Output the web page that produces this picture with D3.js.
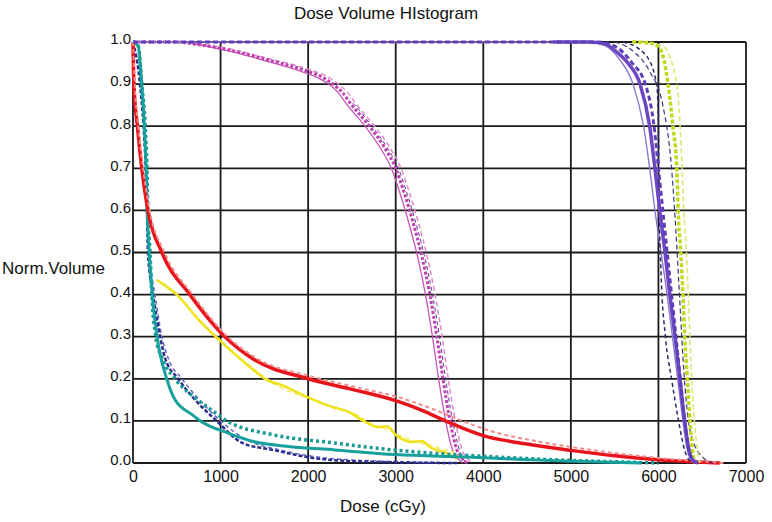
<!DOCTYPE html>
<html>
<head>
<meta charset="utf-8">
<script src="https://cdn.jsdelivr.net/npm/d3@7"></script>
<style>
  body { margin: 0; background: #fff; }
  text { font-family: "Liberation Sans", Arial, sans-serif; fill: #111; }
</style>
</head>
<body>
<div id="chart"></div>
<script>
var width = 772,
    height = 522,
    mLeft = 133, mRight = 746, mTop = 42, mBottom = 463;

var xTicks = [0, 1000, 2000, 3000, 4000, 5000, 6000, 7000];
var yTicks = [0, 0.1, 0.2, 0.3, 0.4, 0.5, 0.6, 0.7, 0.8, 0.9, 1.0];

// [dose cGy, normalized volume]
var redSolid = [[0,1],[10,0.9],[50,0.8],[100,0.7],[170,0.6],[330,0.5],[650,0.4],[1050,0.3],[1350,0.25],[2000,0.2],[2500,0.175],[3000,0.148],[3300,0.125],[3600,0.097],[4000,0.065],[4500,0.045],[5000,0.03],[5500,0.017],[6000,0.008],[6400,0.003],[6700,0]];
var redDash = [[0,1],[20,0.9],[60,0.8],[115,0.7],[190,0.6],[360,0.5],[680,0.4],[1080,0.3],[1400,0.25],[2050,0.205],[2550,0.18],[3050,0.155],[3400,0.13],[3700,0.105],[4100,0.075],[4600,0.052],[5100,0.035],[5600,0.021],[6100,0.01],[6500,0.004],[6750,0]];
var tealSolid = [[0,1],[60,0.99],[100,0.9],[130,0.8],[150,0.7],[162,0.6],[185,0.5],[220,0.4],[275,0.3],[385,0.2],[480,0.15],[675,0.115],[770,0.1],[1100,0.07],[1400,0.05],[1750,0.04],[2300,0.031],[3000,0.02],[3800,0.014],[4500,0.008],[5000,0.004],[5800,0]];
var tealDot = [[0,1],[60,0.99],[100,0.9],[140,0.8],[160,0.7],[170,0.6],[195,0.5],[215,0.4],[260,0.3],[330,0.25],[480,0.2],[740,0.15],[935,0.12],[1070,0.1],[1600,0.067],[2285,0.048],[2970,0.031],[3500,0.022],[4000,0.016],[4900,0.007],[5500,0.003],[6000,0]];
var navyDash = [[0,1],[80,0.9],[120,0.8],[145,0.7],[160,0.6],[170,0.5],[230,0.4],[310,0.3],[365,0.25],[515,0.2],[710,0.15],[955,0.1],[1255,0.047],[1600,0.031],[2055,0.012],[2670,0.003],[3700,0]];
var navyDash2 = [[170,0.5],[250,0.4],[330,0.3],[400,0.25],[560,0.2],[760,0.15],[1000,0.1],[1300,0.055],[1700,0.03],[2200,0.012],[2900,0.004],[3700,0]];
var yellowSolid = [[270,0.435],[500,0.4],[750,0.34],[960,0.297],[1335,0.228],[1530,0.197],[1700,0.185],[1985,0.157],[2250,0.135],[2475,0.12],[2630,0.1],[2800,0.085],[2900,0.087],[3010,0.065],[3200,0.05],[3300,0.052],[3390,0.038],[3620,0.02],[3700,0.01]];
var yellowDash = [[300,0.43],[550,0.39],[800,0.33],[1000,0.29],[1400,0.22],[1600,0.19],[2050,0.15],[2300,0.13],[2550,0.115],[2700,0.095],[2900,0.08],[3100,0.06],[3300,0.047],[3500,0.035],[3700,0.02],[3760,0.01]];
var magSolid = [[0,1],[500,1],[700,0.995],[1000,0.985],[1500,0.96],[2000,0.93],[2150,0.918],[2285,0.9],[2400,0.878],[2480,0.855],[2700,0.8],[2870,0.75],[3000,0.7],[3100,0.64],[3200,0.57],[3300,0.49],[3390,0.4],[3470,0.3],[3540,0.2],[3620,0.1],[3700,0.03],[3760,0.01],[3820,0]];
var magThin = [[0,1],[500,1],[1000,0.983],[1500,0.956],[1950,0.928],[2100,0.916],[2235,0.9],[2350,0.878],[2430,0.855],[2650,0.8],[2820,0.75],[2950,0.7],[3050,0.64],[3150,0.57],[3250,0.49],[3340,0.4],[3420,0.3],[3490,0.2],[3570,0.1],[3650,0.03],[3710,0.01],[3770,0]];
var magDash = [[0,1],[500,1],[1000,0.988],[1500,0.963],[2050,0.932],[2200,0.92],[2345,0.9],[2460,0.878],[2540,0.855],[2760,0.8],[2930,0.75],[3060,0.7],[3160,0.64],[3260,0.57],[3360,0.49],[3450,0.4],[3530,0.3],[3600,0.2],[3680,0.1],[3760,0.03],[3820,0.01],[3880,0]];
var magDash2 = [[2510,0.855],[2730,0.8],[2900,0.75],[3030,0.7],[3130,0.64],[3230,0.57],[3330,0.49],[3420,0.4],[3500,0.3],[3570,0.2],[3650,0.1],[3730,0.03],[3800,0]];
var purpSolid = [[4800,1],[5200,1],[5400,0.995],[5500,0.98],[5650,0.95],[5790,0.9],[5900,0.8],[5960,0.7],[6015,0.6],[6075,0.5],[6130,0.4],[6190,0.3],[6245,0.2],[6300,0.1],[6340,0.04],[6380,0.01],[6450,0]];
var purpThin = [[0,1],[5200,1],[5400,0.99],[5550,0.96],[5710,0.9],[5830,0.8],[5900,0.7],[5960,0.6],[6030,0.5],[6100,0.4],[6160,0.3],[6220,0.2],[6280,0.1],[6330,0.03],[6400,0]];
var purpDot = [[0,1],[5300,1],[5500,0.99],[5700,0.95],[5850,0.9],[5950,0.8],[6000,0.7],[6050,0.6],[6100,0.5],[6150,0.4],[6200,0.3],[6250,0.2],[6300,0.1],[6350,0.03],[6420,0]];
var purpDash = [[5500,1],[5700,0.98],[5900,0.93],[6050,0.85],[6150,0.7],[6200,0.55],[6240,0.4],[6280,0.25],[6330,0.12],[6400,0.05],[6500,0.015],[6620,0]];
var purpDash2 = [[5600,1],[5850,0.97],[5980,0.9],[6000,0.8],[6010,0.6],[6030,0.45],[6080,0.3],[6150,0.2],[6230,0.1],[6300,0.03],[6380,0]];
var chartSolid = [[5700,1],[5900,0.998],[6015,0.985],[6110,0.9],[6165,0.8],[6210,0.7],[6225,0.6],[6255,0.5],[6280,0.4],[6300,0.3],[6330,0.2],[6360,0.1],[6395,0.02],[6420,0]];
var chartDash = [[5800,1],[6050,0.99],[6210,0.9],[6260,0.75],[6290,0.6],[6320,0.5],[6350,0.35],[6380,0.2],[6420,0.08],[6470,0]];

var curves = [
  { data: magThin,    color: "#c655b8", w: 1.3, dash: null },
  { data: magDash,    color: "#e08ad0", w: 1.5, dash: "5,3" },
  { data: magDash2,   color: "#5a3a8a", w: 1,   dash: "4,3" },
  { data: magSolid,   color: "#c040b0", w: 3,   dash: "3,2" },
  { data: yellowDash, color: "#f5ee7a", w: 2,   dash: "5,3" },
  { data: yellowSolid,color: "#f0e21a", w: 2.5, dash: null },
  { data: navyDash2,  color: "#6a6ac8", w: 1.5, dash: "4,3" },
  { data: navyDash,   color: "#2c2c8c", w: 2.5, dash: "4,2" },
  { data: tealDot,    color: "#1a9a96", w: 3.5, dash: "3,3" },
  { data: tealSolid,  color: "#17a09c", w: 3,   dash: null },
  { data: redSolid,   color: "#e8141c", w: 3.5, dash: null },
  { data: redDash,    color: "#f58a8a", w: 2,   dash: "4,3" },
  { data: purpThin,   color: "#8a78cc", w: 1.4, dash: null },
  { data: purpDash,   color: "#3a3a80", w: 1.2, dash: "5,3" },
  { data: purpDash2,  color: "#2a2a6a", w: 1.5, dash: "4,3" },
  { data: chartDash,  color: "#d8e66a", w: 1.5, dash: "5,3" },
  { data: chartSolid, color: "#c2d81a", w: 3.5, dash: "4,2" },
  { data: purpSolid,  color: "#6b47c2", w: 3.5, dash: null },
  { data: purpDot,    color: "#5e3fb8", w: 3,   dash: "5,3" }
];

var x = d3.scaleLinear().domain([0, 7000]).range([mLeft, mRight]);
var y = d3.scaleLinear().domain([0, 1]).range([mBottom, mTop]);

var svg = d3.select("#chart").append("svg")
    .attr("width", width)
    .attr("height", height);

svg.append("rect").attr("width", width).attr("height", height).attr("fill", "#fff");

// grid
svg.append("g").selectAll("line")
    .data(xTicks).enter().append("line")
    .attr("x1", function(d) { return x(d); })
    .attr("x2", function(d) { return x(d); })
    .attr("y1", mTop).attr("y2", mBottom)
    .attr("stroke", "#1a1a1a").attr("stroke-width", 1.8);

svg.append("g").selectAll("line")
    .data(yTicks).enter().append("line")
    .attr("x1", mLeft).attr("x2", mRight)
    .attr("y1", function(d) { return y(d); })
    .attr("y2", function(d) { return y(d); })
    .attr("stroke", "#1a1a1a").attr("stroke-width", 1.8);

// tick labels
var xAxis = d3.axisBottom(x).tickValues(xTicks).tickFormat(d3.format("d")).tickSize(0).tickPadding(8);
svg.append("g")
    .attr("transform", "translate(0," + mBottom + ")")
    .call(xAxis)
    .call(function(g) { g.select(".domain").remove(); })
    .selectAll("text")
    .style("font-size", "16px")
    .style("font-family", "'Liberation Sans', Arial, sans-serif")
    .attr("fill", "#111");

var yAxis = d3.axisLeft(y).tickValues(yTicks).tickFormat(d3.format(".1f")).tickSize(0).tickPadding(2);
svg.append("g")
    .attr("transform", "translate(" + mLeft + ",-3)")
    .call(yAxis)
    .call(function(g) { g.select(".domain").remove(); })
    .selectAll("text")
    .style("font-size", "15px")
    .style("font-family", "'Liberation Sans', Arial, sans-serif")
    .attr("fill", "#111");

// curves
var line = d3.line()
    .x(function(d) { return x(d[0]); })
    .y(function(d) { return y(d[1]); })
    .curve(d3.curveMonotoneX);

svg.append("g").selectAll("path")
    .data(curves).enter().append("path")
    .attr("d", function(c) { return line(c.data); })
    .attr("fill", "none")
    .attr("stroke", function(c) { return c.color; })
    .attr("stroke-width", function(c) { return c.w; })
    .attr("stroke-dasharray", function(c) { return c.dash; });

// titles
svg.append("text")
    .attr("x", 386).attr("y", 19)
    .attr("text-anchor", "middle")
    .style("font-size", "17px")
    .text("Dose Volume HIstogram");

svg.append("text")
    .attr("x", 2).attr("y", 274)
    .style("font-size", "17px")
    .text("Norm.Volume");

svg.append("text")
    .attr("x", 383).attr("y", 512)
    .attr("text-anchor", "middle")
    .style("font-size", "17px")
    .text("Dose (cGy)");
</script>
</body>
</html>
